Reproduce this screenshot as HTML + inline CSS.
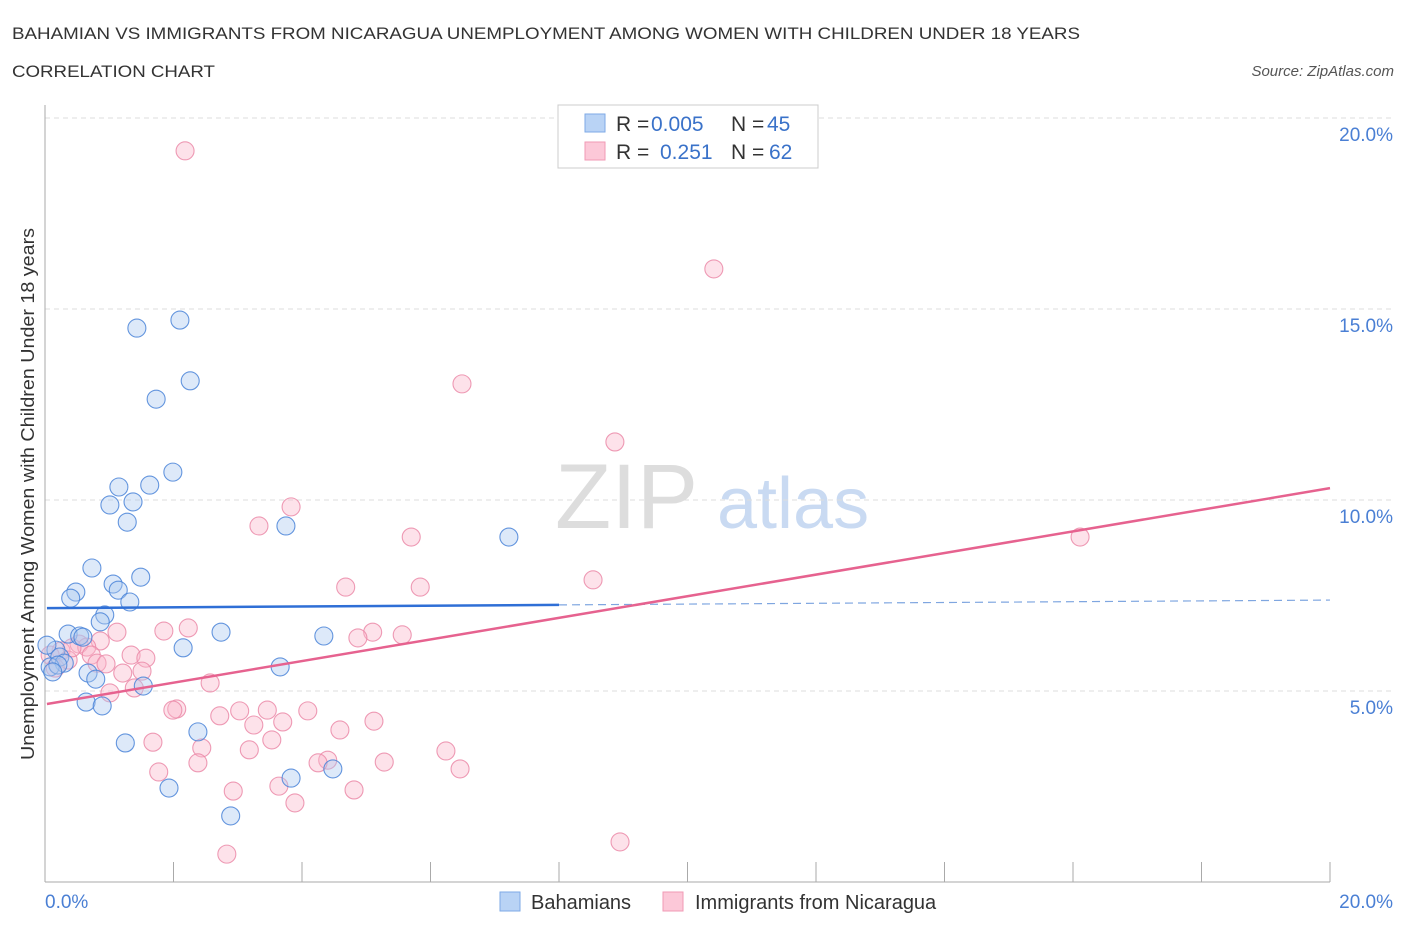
<!DOCTYPE html>
<html><head><meta charset="utf-8"><style>
body{margin:0;background:#fff;font-family:"Liberation Sans",sans-serif;}
svg text{font-family:"Liberation Sans",sans-serif;}
</style></head><body>
<svg id="chart" width="1406" height="930" xmlns="http://www.w3.org/2000/svg">
<text x="12" y="39" font-size="17" fill="#333" textLength="1068" lengthAdjust="spacingAndGlyphs">BAHAMIAN VS IMMIGRANTS FROM NICARAGUA UNEMPLOYMENT AMONG WOMEN WITH CHILDREN UNDER 18 YEARS</text>
<text x="12" y="77" font-size="17" fill="#333" textLength="203" lengthAdjust="spacingAndGlyphs">CORRELATION CHART</text>
<text x="1394" y="76" font-size="15" fill="#555" font-style="italic" text-anchor="end">Source: ZipAtlas.com</text>
<g>
<text x="555" y="528" font-size="92" fill="#ddd" font-family="Liberation Serif">ZIP</text>
<text x="717" y="528" font-size="72" fill="#c9daf2">atlas</text>
</g>
<g id="grid"></g><g id="axes"></g><g id="marks"></g>
<text transform="translate(34,494) rotate(-90)" font-size="18" fill="#333" text-anchor="middle" textLength="532" lengthAdjust="spacingAndGlyphs">Unemployment Among Women with Children Under 18 years</text>
<text x="45" y="908" font-size="19" fill="#4a7fd4">0.0%</text>
<text x="1393" y="908" font-size="19" fill="#4a7fd4" text-anchor="end">20.0%</text>
<g>
<rect x="558" y="105" width="260" height="63" fill="#fff" stroke="#ccc"/>
<rect x="585" y="114" width="20" height="18" fill="#b9d3f5" stroke="#7ea9e6"/>
<rect x="585" y="142" width="20" height="18" fill="#fcc8d8" stroke="#f09ab5"/>
<text y="131" font-size="21"><tspan x="616" fill="#333">R =</tspan><tspan x="651" fill="#3a72c9">0.005</tspan><tspan x="731" fill="#333">N =</tspan><tspan x="767" fill="#3a72c9">45</tspan></text>
<text y="159" font-size="21"><tspan x="616" fill="#333">R =</tspan><tspan x="660" fill="#3a72c9">0.251</tspan><tspan x="731" fill="#333">N =</tspan><tspan x="769" fill="#3a72c9">62</tspan></text>
</g>
<g>
<rect x="500" y="892" width="20" height="19" fill="#b9d3f5" stroke="#7ea9e6"/>
<text x="531" y="909" font-size="20" fill="#333">Bahamians</text>
<rect x="663" y="892" width="20" height="19" fill="#fcc8d8" stroke="#f09ab5"/>
<text x="695" y="909" font-size="20" fill="#333">Immigrants from Nicaragua</text>
</g>
</svg>
<script>
const yTicks=[5,10,15,20];
const yTickLabels=["5.0%","10.0%","15.0%","20.0%"];
const blueX=[1.43,2.10,2.26,1.73,1.99,1.63,1.15,1.01,1.37,1.28,3.75,7.22,0.73,1.49,1.06,0.48,0.40,1.14,1.32,0.93,0.86,0.36,0.54,0.59,2.74,4.34,2.15,0.17,0.03,0.23,0.30,0.08,0.20,3.66,0.67,0.79,0.12,1.53,0.64,0.89,2.38,1.25,3.83,4.48,1.93,2.89];
const blueY=[14.50,14.71,13.12,12.64,10.73,10.39,10.34,9.87,9.95,9.42,9.32,9.03,8.22,7.98,7.80,7.59,7.43,7.64,7.33,6.99,6.81,6.49,6.44,6.41,6.54,6.44,6.13,6.07,6.20,5.89,5.73,5.63,5.68,5.63,5.47,5.31,5.50,5.13,4.71,4.61,3.93,3.64,2.72,2.96,2.46,1.73];
const pinkX=[2.18,10.41,6.49,8.87,3.83,3.33,5.70,16.11,8.53,4.68,5.84,1.12,1.85,2.23,5.10,4.87,5.56,0.53,0.86,0.65,0.72,1.34,1.57,0.25,0.36,0.81,0.95,1.51,1.21,1.01,1.39,2.57,2.05,1.99,3.03,2.72,3.46,3.25,3.70,4.09,4.59,5.12,1.68,3.53,2.44,3.18,6.24,2.38,5.28,4.40,4.25,6.46,1.77,3.64,2.93,4.81,3.89,8.95,2.83,0.08,0.42,0.16];
const pinkY=[19.14,16.05,13.04,11.52,9.82,9.32,9.03,9.03,7.91,7.72,7.72,6.54,6.57,6.65,6.54,6.39,6.47,6.23,6.31,6.15,5.94,5.94,5.86,6.05,5.81,5.73,5.71,5.52,5.47,4.95,5.08,5.21,4.53,4.50,4.48,4.35,4.50,4.11,4.19,4.48,3.98,4.21,3.66,3.72,3.51,3.46,3.43,3.12,3.14,3.19,3.12,2.96,2.88,2.51,2.38,2.41,2.07,1.05,0.73,5.94,6.13,5.60];
const blueTrend=[7.17,7.38];
const pinkTrend=[4.66,10.31];
const NS="http://www.w3.org/2000/svg";
const X0=45,X1=1330,Y0=882,YT=118;
function sx(v){return X0+v/20*(X1-X0);}
function sy(v){return Y0-v/20*(Y0-YT);}
function mk(t,a,p){const e=document.createElementNS(NS,t);for(const k in a)e.setAttribute(k,a[k]);p.appendChild(e);return e;}
const grid=document.getElementById('grid'),axes=document.getElementById('axes'),marks=document.getElementById('marks');
yTicks.forEach((t,i)=>{
 const l=mk('line',{x1:X0,x2:1394,y1:sy(t),y2:sy(t),stroke:'#ddd','stroke-dasharray':'5,4'},grid);
 
 
 const tx=mk('text',{x:1393,y:sy(t)+23,'font-size':19,fill:'#4a7fd4','text-anchor':'end'},grid);
 tx.textContent=yTickLabels[i];
 
 
});
const ya=mk('line',{x1:X0,x2:X0,y1:105,y2:Y0,stroke:'#aaa'},axes);


const xa=mk('line',{x1:X0,x2:X1,y1:Y0,y2:Y0,stroke:'#aaa'},axes);


for(let i=0;i<=10;i++){
 const t=mk('line',{x1:sx(i*2),x2:sx(i*2),y1:Y0-20,y2:Y0,stroke:'#aaa'},axes);
 
 
}
function pts(xs,ys,fill,stroke,name){
 xs.forEach((x,i)=>{
  const c=mk('circle',{cx:sx(x),cy:sy(ys[i]),r:9,fill:fill,'fill-opacity':0.4,stroke:stroke,'stroke-width':1.1,'stroke-opacity':0.85},marks);
  
  
 });
}
pts(pinkX,pinkY,'#f9b6ca','#eb8aa8','point-nicaragua');
pts(blueX,blueY,'#a9c8f0','#4a84d8','point-bahamians');
const bm=blueTrend[0]+(blueTrend[1]-blueTrend[0])*8/20;
const b1=mk('line',{x1:sx(0.03),y1:sy(blueTrend[0]),x2:sx(8),y2:sy(bm),stroke:'#2f6fd6','stroke-width':2.5},marks);


const b2=mk('line',{x1:sx(8),y1:sy(bm),x2:sx(20),y2:sy(blueTrend[1]),stroke:'#7fa6e0','stroke-width':1.2,'stroke-dasharray':'8,5'},marks);


const p1=mk('line',{x1:sx(0.03),y1:sy(pinkTrend[0]),x2:sx(20),y2:sy(pinkTrend[1]),stroke:'#e6628f','stroke-width':2.5},marks);


</script>
</body></html>
